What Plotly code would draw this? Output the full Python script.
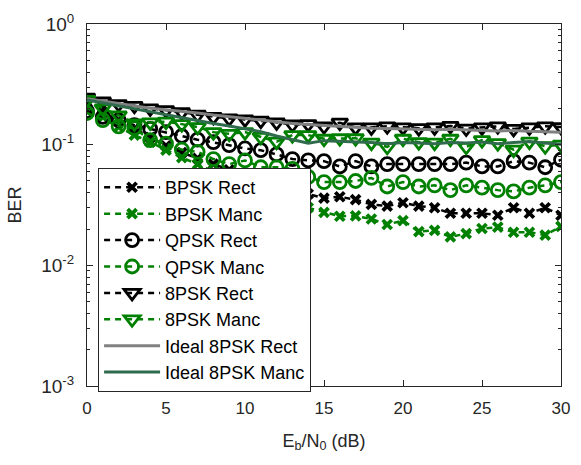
import plotly.graph_objects as go

snr = list(range(31))

bpsk_rect = [0.20, 0.185, 0.16, 0.135, 0.115, 0.098, 0.086, 0.077, 0.069, 0.062, 0.057,
             0.051, 0.047, 0.042, 0.039, 0.036, 0.037, 0.035, 0.032, 0.031, 0.033,
             0.031, 0.030, 0.027, 0.027, 0.027, 0.026, 0.030, 0.027, 0.030, 0.026]
bpsk_manc = [0.19, 0.17, 0.14, 0.12, 0.105, 0.09, 0.078, 0.069, 0.06, 0.053, 0.047,
             0.042, 0.037, 0.033, 0.030, 0.0275, 0.0255, 0.0257, 0.0242, 0.0218, 0.0235,
             0.019, 0.0195, 0.0172, 0.0183, 0.0202, 0.0207, 0.0188, 0.0188, 0.0178, 0.021]
qpsk_rect = [0.19, 0.17, 0.16, 0.145, 0.135, 0.127, 0.118, 0.11, 0.105, 0.099, 0.093,
             0.09, 0.083, 0.076, 0.074, 0.073, 0.066, 0.073, 0.066, 0.069, 0.069,
             0.069, 0.069, 0.069, 0.071, 0.066, 0.066, 0.073, 0.071, 0.065, 0.075]
qpsk_manc = [0.183, 0.16, 0.142, 0.137, 0.109, 0.102, 0.091, 0.087, 0.076, 0.069, 0.074,
             0.065, 0.065, 0.063, 0.054, 0.049, 0.049, 0.05, 0.053, 0.045, 0.049,
             0.045, 0.046, 0.042, 0.046, 0.044, 0.042, 0.041, 0.044, 0.046, 0.049]
psk8_rect = [0.245, 0.228, 0.217, 0.21, 0.2, 0.193, 0.186, 0.177, 0.17, 0.165, 0.162,
             0.158, 0.153, 0.147, 0.148, 0.142, 0.152, 0.139, 0.139, 0.142, 0.139,
             0.137, 0.139, 0.143, 0.136, 0.139, 0.142, 0.135, 0.139, 0.142, 0.14]
psk8_manc = [0.235, 0.2, 0.175, 0.15, 0.153, 0.155, 0.148, 0.14, 0.127, 0.123, 0.127,
             0.116, 0.106, 0.12, 0.12, 0.112, 0.113, 0.113, 0.104, 0.096, 0.112,
             0.105, 0.104, 0.112, 0.096, 0.109, 0.103, 0.091, 0.106, 0.097, 0.1]
ideal_rect = [0.24, 0.23, 0.22, 0.21, 0.2, 0.195, 0.19, 0.183, 0.176, 0.17, 0.165,
              0.16, 0.155, 0.15, 0.147, 0.144, 0.141, 0.139, 0.137, 0.136, 0.135,
              0.134, 0.133, 0.134, 0.132, 0.131, 0.13, 0.131, 0.129, 0.128, 0.127]
ideal_manc = [0.235, 0.222, 0.21, 0.198, 0.188, 0.178, 0.168, 0.158, 0.15, 0.143, 0.136,
              0.128, 0.118, 0.11, 0.103, 0.108, 0.107, 0.106, 0.104, 0.102, 0.104,
              0.103, 0.102, 0.104, 0.103, 0.105, 0.102, 0.104, 0.106, 0.103, 0.101]

x_ticks = [0, 5, 10, 15, 20, 25, 30]
y_ticks = [1e-3, 1e-2, 1e-1, 1]
y_tick_text = ["10<sup>-3</sup>", "10<sup>-2</sup>", "10<sup>-1</sup>", "10<sup>0</sup>"]

GREEN = "#008000"
BLACK = "#000000"
GRAY = "#808080"
DKGREEN = "#2f6b4c"
FONT = "Liberation Sans, Arial, sans-serif"

fig = go.Figure()

def marker_trace(name, y, color, symbol, size, lw):
    fig.add_trace(go.Scatter(
        x=snr, y=y, name=name, mode="lines+markers", legendgroup=name,
        line=dict(color=color, width=2.5, dash="6px,5px"),
        marker=dict(symbol=symbol, size=size, color=color,
                    line=dict(color=color, width=lw)),
    ))

marker_trace("BPSK Rect", bpsk_rect, BLACK, "x-thin-open", 9, 3.8)
marker_trace("BPSK Manc", bpsk_manc, GREEN, "x-thin-open", 9, 3.8)
marker_trace("QPSK Rect", qpsk_rect, BLACK, "circle-open", 13, 2.8)
marker_trace("QPSK Manc", qpsk_manc, GREEN, "circle-open", 13, 2.8)
marker_trace("8PSK Rect", psk8_rect, BLACK, "triangle-down-open", 14, 2.8)
marker_trace("8PSK Manc", psk8_manc, GREEN, "triangle-down-open", 14, 2.8)

fig.add_trace(go.Scatter(x=snr, y=ideal_rect, name="Ideal 8PSK Rect", mode="lines",
                         legendgroup="ir", line=dict(color=GRAY, width=3)))
fig.add_trace(go.Scatter(x=snr, y=ideal_manc, name="Ideal 8PSK Manc", mode="lines",
                         legendgroup="im", line=dict(color=DKGREEN, width=3)))

minor_vals = [m * 10 ** e for e in (-3, -2, -1) for m in range(2, 10)]

fig.update_layout(
    width=581, height=465,
    margin=dict(l=87, r=12, t=11, b=79),
    paper_bgcolor="white", plot_bgcolor="white",
    font=dict(family=FONT, size=16, color="#262626"),
    xaxis=dict(
        range=[0, 30], tickvals=x_ticks,
        ticks="inside", ticklen=6, tickcolor="#262626", showgrid=False, zeroline=False,
        showline=True, linecolor="#262626", linewidth=1, mirror="ticks",
        title=dict(text="E<sub>b</sub>/N<sub>0</sub> (dB)", standoff=16, font=dict(size=18)),
        tickfont=dict(size=17), ticklabelstandoff=7, ticklabeloverflow="allow",
    ),
    yaxis=dict(
        type="log", range=[-3, 0],
        tickvals=y_ticks, ticktext=y_tick_text,
        ticks="inside", ticklen=6, tickcolor="#262626", showgrid=False, zeroline=False,
        showline=True, linecolor="#262626", linewidth=1, mirror="ticks",
        minor=dict(tickvals=minor_vals, ticks="inside", ticklen=3, tickcolor="#262626",
                   showgrid=False),
        title=dict(text="BER", standoff=14, font=dict(size=18)),
        tickfont=dict(size=19), ticklabelstandoff=8, ticklabeloverflow="allow",
    ),
    legend=dict(
        x=0.0234, y=0.602, xanchor="left", yanchor="top",
        bgcolor="white", bordercolor="#262626", borderwidth=1,
        font=dict(size=18, color="#000000"), itemwidth=56, tracegroupgap=0,
    ),
    showlegend=True,
)

fig.write_html("out.html")
